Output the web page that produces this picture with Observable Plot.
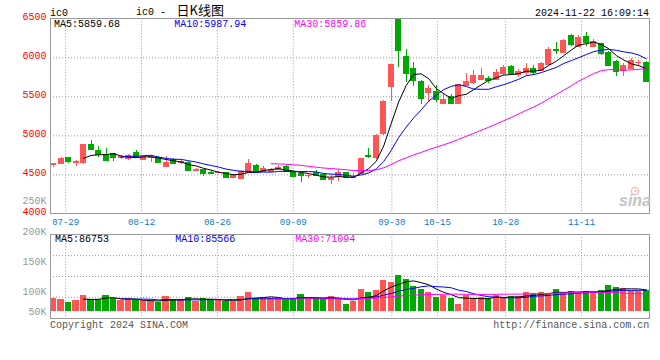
<!DOCTYPE html>
<html><head><meta charset="utf-8">
<script src="https://cdn.jsdelivr.net/npm/d3@7"></script>
<script src="https://cdn.jsdelivr.net/npm/@observablehq/plot@0.6"></script>
<style>
body{margin:0;background:#fff}
#wrap{position:relative;width:660px;height:360px;overflow:hidden;background:#fff}
#wrap svg{position:absolute;left:0;top:0;overflow:visible}
</style></head><body><div id="wrap"></div>
<script>
// ---------- data ----------
const dates = ["07-25","07-26","07-29","07-30","07-31","08-01","08-02","08-05","08-06","08-07","08-08","08-09","08-12","08-13","08-14","08-15","08-16","08-19","08-20","08-21","08-22","08-23","08-26","08-27","08-28","08-29","08-30","09-02","09-03","09-04","09-05","09-06","09-09","09-10","09-11","09-12","09-13","09-18","09-19","09-20","09-23","09-24","09-25","09-26","09-27","09-30","10-08","10-09","10-10","10-11","10-14","10-15","10-16","10-17","10-18","10-21","10-22","10-23","10-24","10-25","10-28","10-29","10-30","10-31","11-01","11-04","11-05","11-06","11-07","11-08","11-11","11-12","11-13","11-14","11-15","11-18","11-19","11-20","11-21","11-22"];
const open = [4624,4637,4714,4654,4650,4885,4808,4752,4765,4722,
  4701,4782,4692,4718,4722,4607,4688,4654,4658,4555,
  4564,4526,4521,4521,4466,4453,4530,4615,4538,4543,
  4560,4603,4530,4509,4483,4521,4500,4440,4474,4526,
  4461,4517,4748,4722,5021,5620,6490,6013,5855,5684,
  5543,5564,5406,5500,5406,5641,5671,5718,5735,5718,
  5791,5885,5778,5803,5855,5833,5906,6098,6068,6274,
  6141,6261,6145,6175,6068,5949,5833,5863,5932,5940];
const high = [4650,4722,4722,4688,4893,4936,4867,4842,4773,4748,
  4765,4808,4748,4752,4735,4731,4714,4680,4671,4581,
  4573,4560,4543,4530,4509,4551,4701,4637,4603,4581,
  4615,4615,4543,4517,4509,4560,4509,4487,4573,4534,
  4517,4714,4842,5013,5457,5919,6500,6111,5940,5705,
  5641,5641,5543,5534,5662,5799,5842,5867,5756,5855,
  5897,5897,5855,5927,5897,5940,6132,6197,6239,6303,
  6282,6325,6231,6184,6077,5962,5927,5996,5970,5949];
const low = [4594,4628,4645,4607,4637,4808,4722,4671,4671,4697,
  4688,4714,4688,4658,4645,4607,4628,4628,4538,4551,
  4479,4500,4513,4457,4457,4444,4517,4521,4526,4530,
  4551,4530,4466,4402,4457,4474,4423,4380,4414,4449,
  4457,4509,4714,4701,5000,5440,5876,5684,5628,5406,
  5427,5427,5397,5397,5397,5628,5654,5705,5671,5705,
  5769,5769,5748,5769,5769,5825,5897,6047,6060,6141,
  6132,6141,6141,6026,5889,5756,5756,5855,5906,5688];
const close = [4637,4709,4667,4662,4885,4821,4752,4679,4722,4735,
  4744,4722,4731,4726,4650,4658,4637,4662,4551,4564,
  4508,4517,4530,4466,4487,4538,4637,4530,4581,4560,
  4590,4543,4474,4487,4491,4487,4432,4453,4530,4457,
  4474,4705,4731,5000,5440,5910,6090,5791,5705,5478,
  5598,5457,5462,5406,5654,5684,5761,5761,5705,5803,
  5867,5791,5820,5863,5803,5927,6103,6085,6218,6167,
  6248,6184,6197,6055,5897,5812,5897,5953,5940,5696];
const volume = [53000,47600,36600,44800,63900,47600,47600,63900,50500,42300,
  47600,42300,42300,39500,36600,61000,47600,47600,55800,39500,
  52900,47600,42300,39500,39500,61000,77300,50500,50500,52900,
  47600,50500,50500,69200,47600,50500,50500,59800,52900,27300,
  39500,88300,76100,84200,125000,116800,145300,129000,100500,88300,
  76100,57000,62700,52900,27300,63900,52900,57000,52900,63900,
  52900,61000,58000,76100,72000,76100,73500,88300,72000,80200,
  75000,82000,79000,83000,103000,96500,92400,80300,80200,84300];

const tickDates = ["07-29","08-12","08-26","09-09","09-30","10-15","10-28","11-11"];
const priceTicks = [6500,6000,5500,5000,4500,4000];
const volTicks = [250000,200000,150000,100000,50000];
const volTickLabels = ["250K","200K","150K","100K","50K"];
const maPeriods = [5,10,30];
const priceMaLabels = ["MA5:5859.68","MA10:5987.94","MA30:5859.86"];
const volMaLabels = ["MA5:86753","MA10:85566","MA30:71094"];
const symbol = "ic0";
const titleZh = "日K线图";
const stamp = "2024-11-22 16:09:14";

// ---------- styles ----------
const UP = "#ff5555", DOWN = "#00a800";
const MA_COLORS = ["#000000","#0000ff","#ff00ff"];
const MONO = "'Liberation Mono', 'DejaVu Sans Mono', monospace";
const GRID = {stroke:"#999", strokeOpacity:1, strokeDasharray:"1,2"};

const rows = dates.map((d,i)=>({i, date:d, open:open[i], high:high[i], low:low[i], close:close[i], volume:volume[i], up: close[i] >= open[i]}));
const ups = rows.filter(d=>d.up), downs = rows.filter(d=>!d.up);

const xDomain = [-0.4, 79.46];
// date ticks sit on a frame-width/79 pitch starting at the frame's left edge
const tickPos = j => xDomain[0] + j*(xDomain[1]-xDomain[0])/79;
const tickIdx = tickDates.map(d => tickPos(dates.indexOf(d)));
const tickLabel = new Map(tickIdx.map((v,k)=>[v, tickDates[k]]));

const W = 660, ML = 50, MR = 10.7;
const baseStyle = {fontFamily: MONO, fontSize:"10px", background:"transparent", overflow:"visible"};

const candleMarks = (set, color) => [
  Plot.ruleX(set, {x:"i", y1:"low", y2:"high", stroke:color, shapeRendering:"crispEdges"}),
  Plot.rect(set, {x1:d=>d.i-0.4, x2:d=>d.i+0.4, y1:"open", y2:"close", fill:color, insetTop:-0.5, insetBottom:-0.5, shapeRendering:"crispEdges"})
];
const maLines = (field) => maPeriods.map((k,n) =>
  Plot.lineY(rows, Plot.windowY({k, anchor:"end", strict:true}, {x:"i", y:field, stroke:MA_COLORS[n], strokeWidth:1})));

// ---------- price panel ----------
const A = Plot.plot({
  width:W, height:230, marginLeft:ML, marginRight:MR, marginTop:18.3, marginBottom:16.6,
  style: baseStyle,
  x:{domain:xDomain, axis:null, label:null},
  y:{domain:[4000,6500], axis:null, label:null},
  marks:[
    Plot.gridY(priceTicks.slice(1,-1), GRID),
    Plot.gridX(tickIdx, GRID),
    Plot.axisY(priceTicks, {anchor:"left", label:null, tickSize:0, tickPadding:4, color:"#ff0000", fontSize:10, dy:-2.5, tickFormat:d=>String(d)}),
    Plot.axisX(tickIdx, {anchor:"bottom", label:null, tickSize:0, tickPadding:4.5, color:"#0080cc", fontSize:9, tickFormat:d=>tickLabel.get(d)}),
    ...candleMarks(ups, UP),
    ...candleMarks(downs, DOWN),
    ...maLines("close"),
    Plot.frame({stroke:"#999", shapeRendering:"crispEdges"})
  ]
});

// ---------- volume panel ----------
const vDom = [-28500, 311000];
const volGrid = [1,2,3].map(k => vDom[0] + k*(vDom[1]-vDom[0])/4);
const B = Plot.plot({
  width:W, height:360, marginLeft:ML, marginRight:MR, marginTop:234.3, marginBottom:42.3,
  style: baseStyle,
  x:{domain:xDomain, axis:null, label:null},
  y:{domain:vDom, axis:null, label:null},
  marks:[
    Plot.gridX(tickIdx, GRID),
    Plot.gridY(volGrid, GRID),
    Plot.rect(ups, {x1:d=>d.i-0.42, x2:d=>d.i+0.42, y1:0, y2:"volume", fill:UP, shapeRendering:"crispEdges"}),
    Plot.rect(downs, {x1:d=>d.i-0.42, x2:d=>d.i+0.42, y1:0, y2:"volume", fill:DOWN, shapeRendering:"crispEdges"}),
    ...maLines("volume"),
    Plot.frame({stroke:"#999", shapeRendering:"crispEdges"})
  ]
});

// ---------- volume axis labels (Sina places them on their own pitch) ----------
const C = Plot.plot({
  width:W, height:360, marginLeft:ML, marginRight:MR, marginTop:0, marginBottom:0,
  style: baseStyle,
  x:{domain:xDomain, axis:null, label:null},
  y:{type:"linear", domain:[50000,100000,250000], range:[313.3,294,203], axis:null, label:null},
  marks:[
    Plot.axisY(volTicks, {anchor:"left", label:null, tickSize:0, tickPadding:4, color:"#999", fontSize:10, dy:-2.5, tickFormat:d=>volTickLabels[volTicks.indexOf(d)]})
  ]
});

const wrap = document.getElementById("wrap");
wrap.append(A, B, C);

// ---------- header / footer text ----------
const svg = d3.select(wrap).append("svg").attr("width",W).attr("height",360)
  .style("font-family", MONO).style("font-size","10px");
const T = (x,y,txt,fill="#000",anchor="start") =>
  svg.append("text").attr("x",x).attr("y",y).attr("fill",fill).attr("text-anchor",anchor).text(txt);

T(50,15.7,symbol);
const title = svg.append("text").attr("x",136).attr("y",15.3).attr("fill","#000");
title.append("tspan").text(symbol + " - ");
title.append("tspan").attr("x",176.5).style("font-family","'Noto Sans CJK SC', sans-serif").style("font-size","13px").text(titleZh);
T(649,15.5,stamp,"#000","end");

const labX = [54,174.3,294.3];
priceMaLabels.forEach((s,k)=>T(labX[k],27.3,s,MA_COLORS[k]));
volMaLabels.forEach((s,k)=>T(labX[k]+1,241.7,s,MA_COLORS[k]));

T(50,328,"Copyright 2024 SINA.COM","#555");
T(649.3,328,"http://finance.sina.com.cn","#555","end");
// faint sina watermark
const logo = svg.append("g").attr("opacity",0.55);
logo.append("circle").attr("cx",635).attr("cy",191).attr("r",3.6).attr("fill","none").attr("stroke","#f08080").attr("stroke-width",1.4);
logo.append("circle").attr("cx",635.5).attr("cy",191).attr("r",1.2).attr("fill","#f08080");
svg.append("text").attr("x",619).attr("y",206).attr("fill","#c4c4c4")
  .style("font-family","'Liberation Sans', Arial, sans-serif").style("font-size","16px")
  .style("font-style","italic").style("font-weight","bold").text("sina");
</script></body></html>
